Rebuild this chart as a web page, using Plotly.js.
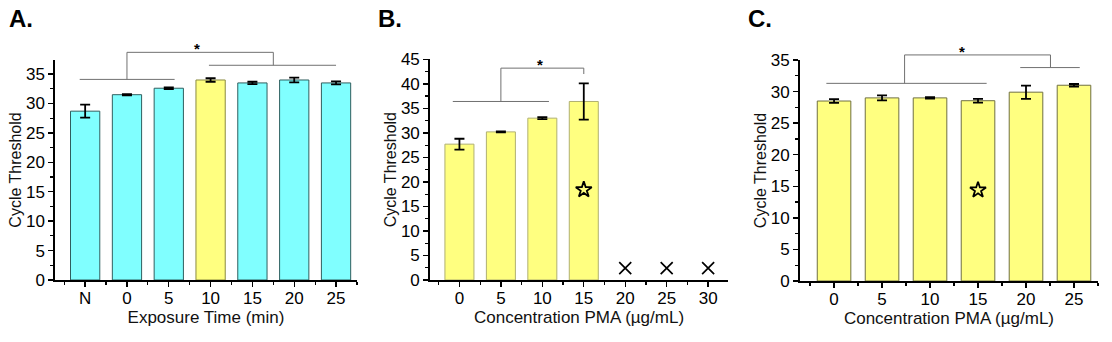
<!DOCTYPE html>
<html><head><meta charset="utf-8">
<script src="https://cdn.plot.ly/plotly-3.0.1.min.js"></script>
<style>html,body{margin:0;padding:0;background:#fff}#plot{width:1112px;height:342px}</style>
</head><body><div id="plot"></div>
<script>
// ---- data ----
const catsA = ['N','0','5','10','15','20','25'];
const valsA = [28.7, 31.5, 32.6, 34.0, 33.5, 34.0, 33.5];
const errA  = [1.1, 0.1, 0.15, 0.3, 0.2, 0.4, 0.25];
const highlightA = '10';

const catsB = ['0','5','10','15','20','25','30'];
const valsB = [27.7, 30.2, 33.0, 36.4, null, null, null];
const errB  = [1.1, 0.1, 0.2, 3.7, null, null, null];
const noSignalB = ['20','25','30'];
const starB = {cat: '15', y: 18.4};

const catsC = ['0','5','10','15','20','25'];
const valsC = [28.5, 29.0, 29.0, 28.55, 29.9, 31.0];
const errC  = [0.3, 0.4, 0.1, 0.3, 1.05, 0.2];
const starC = {cat: '15', y: 14.4};

// ---- style ----
const CYAN = '#80ffff', YEL = '#ffff80';
const font = 'Arial, "Liberation Sans", sans-serif';
const idx = a => a.map((_, i) => i);

const ax = {
  A: {xd: [0.0495, 0.321], yd: [0.1813, 0.8246], xr: [-0.72, 6.5], yr: [0, 37.4]},
  B: {xd: [0.3867, 0.6547], yd: [0.1813, 0.8266], xr: [-0.71, 6.48], yr: [0, 45]},
  C: {xd: [0.7194, 0.9874], yd: [0.1784, 0.8246], xr: [-0.71, 5.5], yr: [0, 35]}
};
const px = (p, x) => p.xd[0] + (x - p.xr[0]) / (p.xr[1] - p.xr[0]) * (p.xd[1] - p.xd[0]);
const py = (p, y) => p.yd[0] + (y - p.yr[0]) / (p.yr[1] - p.yr[0]) * (p.yd[1] - p.yd[0]);

function barTrace(cats, vals, errs, colors, lines, xa, ya) {
  return {
    type: 'bar', x: idx(cats), y: vals, xaxis: xa, yaxis: ya, width: 0.7,
    marker: {color: colors, line: {color: lines, width: 1}},
    error_y: {type: 'data', array: errs, visible: true, color: '#000', thickness: 1.8, width: 5},
    hoverinfo: 'y', showlegend: false
  };
}
function starTrace(cats, s, xa, ya) {
  return {type: 'scatter', mode: 'markers', xaxis: xa, yaxis: ya, showlegend: false,
    x: [cats.indexOf(s.cat)], y: [s.y],
    marker: {symbol: 'star-open', size: 12, line: {color: '#000', width: 1.8}, color: '#000'}};
}

const traces = [
  barTrace(catsA, valsA, errA,
    catsA.map(c => c === highlightA ? YEL : CYAN),
    catsA.map(c => c === highlightA ? '#8a8a40' : '#2f5f5f'), 'x', 'y'),
  barTrace(catsB, valsB, errB, catsB.map(() => YEL), catsB.map(() => '#b0b070'), 'x2', 'y2'),
  {type: 'scatter', mode: 'markers', xaxis: 'x2', yaxis: 'y2', showlegend: false,
   x: noSignalB.map(c => catsB.indexOf(c)), y: noSignalB.map(() => 2.4),
   marker: {symbol: 'x-thin-open', size: 12, line: {color: '#000', width: 1.7}, color: '#000'}},
  starTrace(catsB, starB, 'x2', 'y2'),
  barTrace(catsC, valsC, errC, catsC.map(() => YEL), catsC.map(() => '#707040'), 'x3', 'y3'),
  starTrace(catsC, starC, 'x3', 'y3')
];

function xAxis(p, cats, title, anchor) {
  return {
    domain: p.xd, range: p.xr, anchor: anchor, showgrid: false, zeroline: false,
    tickvals: idx(cats), ticktext: cats, ticks: 'outside', ticklen: 5, tickwidth: 1.4, tickcolor: '#000',
    ticklabelstandoff: -3,
    minor: {tick0: 0.5, dtick: 1, ticks: 'outside', ticklen: 3, tickwidth: 1.2, tickcolor: '#000', showgrid: false},
    showline: true, linecolor: '#000', linewidth: 1.8,
    tickfont: {family: font, size: 17, color: '#000'},
    title: {text: title, font: {family: font, size: 17, color: '#111'}, standoff: 0}
  };
}
function yAxis(p, anchor) {
  return {
    domain: p.yd, range: p.yr, anchor: anchor, showgrid: false, zeroline: false,
    dtick: 5, ticks: 'outside', ticklen: 5, tickwidth: 1.4, tickcolor: '#000',
    minor: {dtick: 2.5, ticks: 'outside', ticklen: 3, tickwidth: 1.2, tickcolor: '#000', showgrid: false},
    showline: true, linecolor: '#000', linewidth: 1.8,
    tickfont: {family: font, size: 17, color: '#000'},
    title: {text: 'Cycle Threshold', font: {family: font, size: 16, color: '#111'}, standoff: 0}
  };
}

// significance brackets (data coordinates -> paper)
const shapes = [], annotations = [];
function seg(p, x0, y0, x1, y1) {
  shapes.push({type: 'line', xref: 'paper', yref: 'paper',
    x0: px(p, x0), y0: py(p, y0), x1: px(p, x1), y1: py(p, y1),
    line: {color: '#707070', width: 1}});
}
function star(p, x, y) {
  annotations.push({xref: 'paper', yref: 'paper', x: px(p, x), y: py(p, y), text: '<b>*</b>',
    showarrow: false, font: {family: font, size: 15, color: '#000'}, yanchor: 'middle'});
}
// A
seg(ax.A, -0.13, 34.1, 2.14, 34.1);
seg(ax.A, 1, 34.1, 1, 38.7);
seg(ax.A, 1, 38.7, 4.5, 38.7);
seg(ax.A, 4.5, 38.7, 4.5, 36.5);
seg(ax.A, 2.96, 36.5, 6.0, 36.5);
star(ax.A, 2.55, 39.3);
// B
seg(ax.B, -0.16, 36.4, 2.16, 36.4);
seg(ax.B, 1, 36.4, 1, 43.2);
seg(ax.B, 1, 43.2, 3, 43.2);
seg(ax.B, 3, 43.2, 3, 42.0);
star(ax.B, 1.95, 44.0);
// C
seg(ax.C, -0.16, 31.3, 3.18, 31.3);
seg(ax.C, 1.47, 31.3, 1.47, 35.8);
seg(ax.C, 1.47, 35.8, 4.51, 35.8);
seg(ax.C, 4.51, 35.8, 4.51, 33.8);
seg(ax.C, 3.88, 33.8, 5.12, 33.8);
star(ax.C, 2.77, 36.4);

// panel letters
[['A.', 0.006], ['B.', 0.338], ['C.', 0.671]].forEach(([t, x]) => {
  annotations.push({xref: 'paper', yref: 'paper', x: x, y: 0.945, text: '<b>' + t + '</b>', showarrow: false,
    xanchor: 'left', yanchor: 'middle', font: {family: font, size: 24, color: '#000'}});
});

const layout = {
  width: 1112, height: 342, margin: {l: 0, r: 0, t: 0, b: 0},
  paper_bgcolor: '#fff', plot_bgcolor: 'rgba(0,0,0,0)', showlegend: false, bargap: 0.3,
  xaxis: xAxis(ax.A, catsA, 'Exposure Time (min)', 'y'),
  yaxis: yAxis(ax.A, 'x'),
  xaxis2: xAxis(ax.B, catsB, 'Concentration PMA (µg/mL)', 'y2'),
  yaxis2: yAxis(ax.B, 'x2'),
  xaxis3: xAxis(ax.C, catsC, 'Concentration PMA (µg/mL)', 'y3'),
  yaxis3: yAxis(ax.C, 'x3'),
  shapes: shapes, annotations: annotations
};
Plotly.newPlot('plot', traces, layout, {staticPlot: true, displayModeBar: false});
</script></body></html>
